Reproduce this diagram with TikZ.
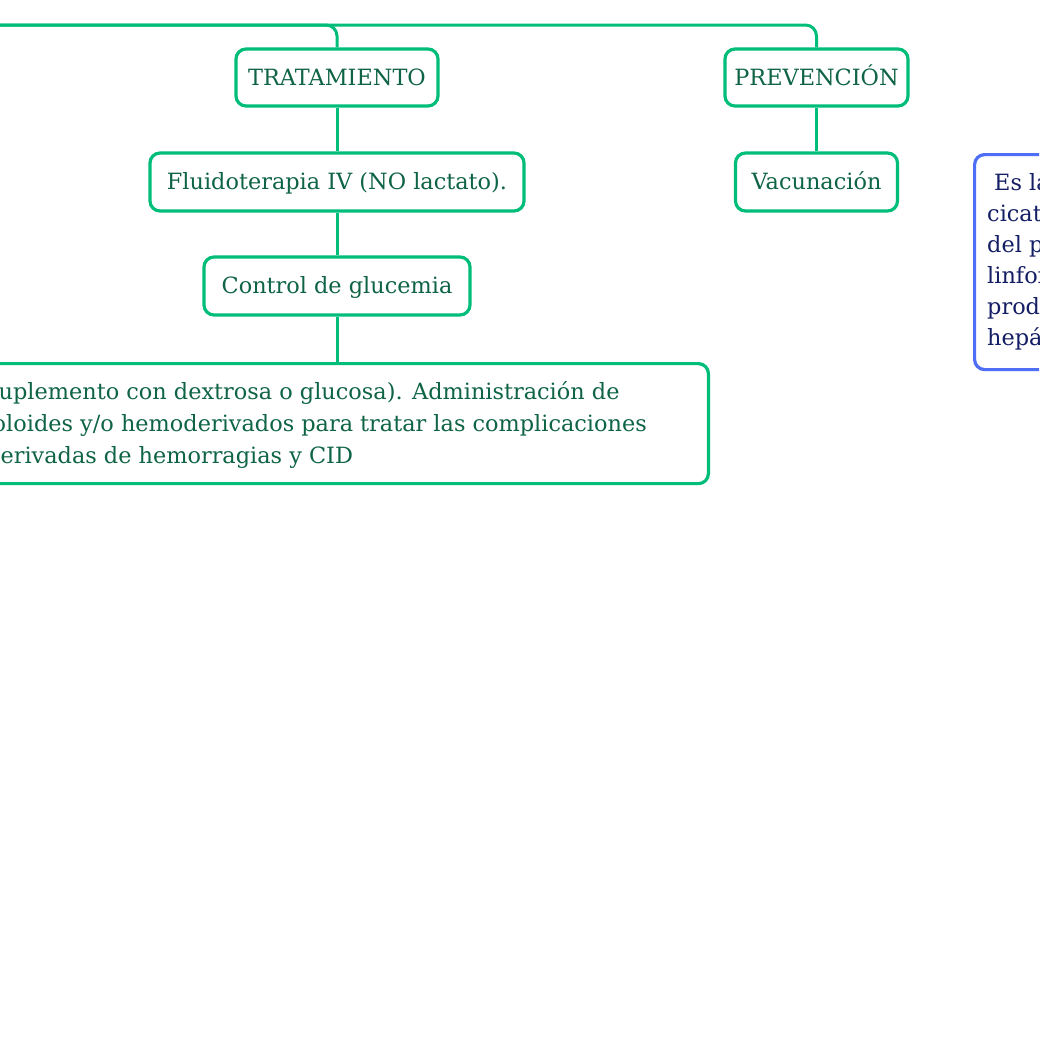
\documentclass[tikz,border=0pt]{standalone}
\usepackage{fontspec}
\setmainfont{DejaVu Serif}
\definecolor{lgreen}{RGB}{0,190,122}
\definecolor{tgreen}{RGB}{14,100,68}
\definecolor{lblue}{RGB}{78,110,245}
\definecolor{tblue}{RGB}{20,30,100}
\tikzset{
  gbox/.style={draw=lgreen, line width=3.2pt, rounded corners=10pt, fill=white,
    text=tgreen, font=\fontsize{22.4}{32}\selectfont, inner sep=0pt, align=center,
    text height=18pt, text depth=3pt},
  bbox/.style={draw=lblue, line width=3.2pt, rounded corners=10pt, fill=white},
  gtxt/.style={text=tgreen, font=\fontsize{22.4}{32}\selectfont, inner sep=0pt, anchor=base west},
  btxt/.style={text=tblue, font=\fontsize{22.4}{32}\selectfont, inner sep=0pt, anchor=base west},
  gline/.style={draw=lgreen, line width=3pt},
}
\begin{document}
\begin{tikzpicture}[x=1pt,y=-1pt]
\useasboundingbox (0,0) rectangle (1039,1039);
\clip (0,0) rectangle (1039,1039);
\fill[white] (0,0) rectangle (1039,1039);
\coordinate (root) at (-20,25);
% nodes
\node[gbox, minimum width=202pt, minimum height=57pt] (trat) at (337,77.5) {TRATAMIENTO};
\node[gbox, minimum width=183pt, minimum height=57pt] (prev) at (816.5,77.5) {PREVENCIÓN};
\node[gbox, minimum width=374pt, minimum height=58pt] (fluido) at (337,182) {Fluidoterapia IV (NO lactato).};
\node[gbox, minimum width=266pt, minimum height=58pt] (control) at (337,286) {Control de glucemia};
\node[gbox, minimum width=162pt, minimum height=58pt] (vac) at (816.5,182) {Vacunación};
\node[gbox, minimum width=790pt, minimum height=120pt, anchor=north east] (big) at (710,362) {};
\node[gtxt] (big1) at (-13,399) {suplemento con dextrosa o glucosa). Administración de};
\node[gtxt] (big2) at (-20,431) {coloides y/o hemoderivados para tratar las complicaciones};
\node[gtxt] (big3) at (-14,463) {derivadas de hemorragias y CID};
\node[bbox, minimum width=200pt, minimum height=215pt, anchor=north west] (blue) at (973,153) {};
\node[btxt] (bl1) at (994,190) {Es la};
\node[btxt] (bl2) at (987,221) {cicatr};
\node[btxt] (bl3) at (987,252) {del pa};
\node[btxt] (bl4) at (987,283) {linfom};
\node[btxt] (bl5) at (987,314) {produc};
\node[btxt] (bl6) at (987,345) {hepát};
% connectors
\draw[gline, rounded corners=11pt] (root) -| (prev.north);
\draw[gline, rounded corners=11pt] (root) -| (trat.north);
\draw[gline] (trat.south) -- (fluido.north);
\draw[gline] (fluido.south) -- (control.north);
\draw[gline] (control.south) -- (control.south |- big.north);
\draw[gline] (prev.south) -- (vac.north);
\end{tikzpicture}
\end{document}
